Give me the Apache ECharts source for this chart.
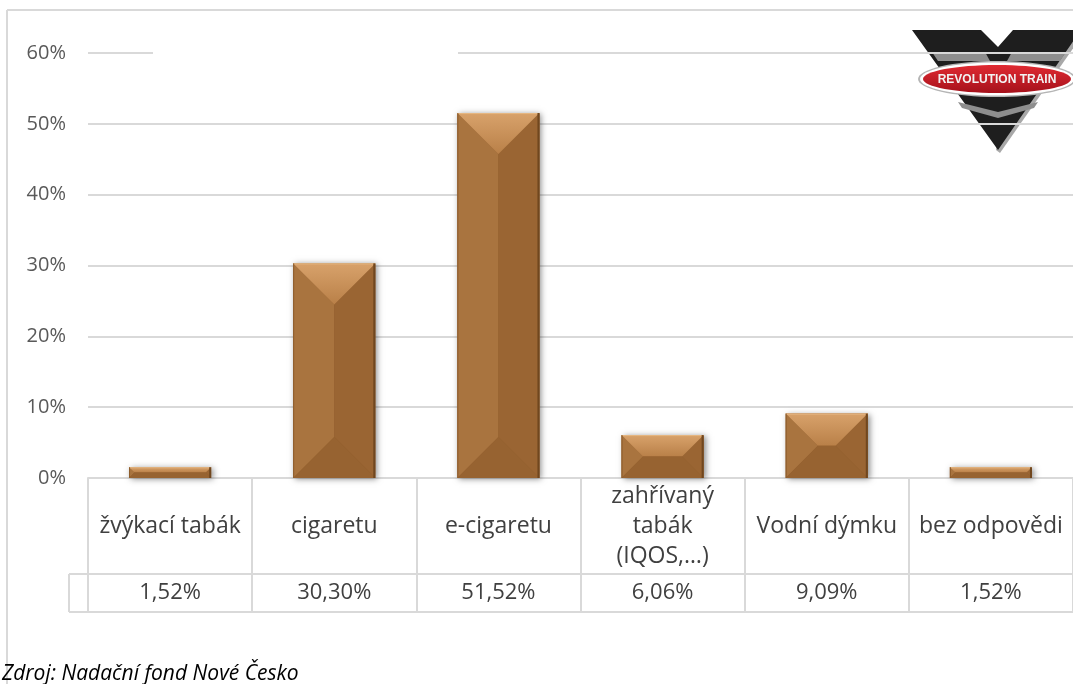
<!DOCTYPE html>
<html>
<head>
<meta charset="utf-8">
<script src="https://cdn.jsdelivr.net/npm/echarts@6/dist/echarts.min.js"></script>
<style>
html,body{margin:0;padding:0;background:#fff;}
#c{width:1073px;height:684px;}
</style>
</head>
<body>
<div id="c"></div>
<script>
const categories = ['žvýkací tabák', 'cigaretu', 'e-cigaretu', 'zahřívaný\ntabák\n(IQOS,…)', 'Vodní dýmku', 'bez odpovědi'];
const values = [1.52, 30.30, 51.52, 6.06, 9.09, 1.52];
const yMin = 0, yMax = 60, yStep = 10;
const sourceText = 'Zdroj: Nadační fond Nové Česko';
const logoText = 'REVOLUTION TRAIN';

const valueLabels = values.map(v => v.toFixed(2).replace('.', ',') + '%');
const barData = values.map((v, i) => [i, v]);

const FONT = "'Open Sans', 'DejaVu Sans', sans-serif";
const GRID_COL = '#d9d9d9';

function renderBar(params, api) {
  const idx = api.value(0), v = api.value(1);
  const base = api.coord([idx, 0]);
  const topP = api.coord([idx, v]);
  const bw = api.size([1, 0])[0] * 0.5;
  const x0 = base[0] - bw / 2, x1 = base[0] + bw / 2;
  const yT = topP[1], yB = base[1];
  const h = yB - yT;
  const d = Math.min(bw / 2, h / 2);
  return {
    type: 'group',
    children: [
      { type: 'rect', shape: { x: x0, y: yT, width: bw, height: h },
        style: { fill: '#8f5c2c', shadowBlur: 6, shadowColor: 'rgba(0,0,0,0.45)', shadowOffsetX: 2, shadowOffsetY: 1 } },
      { type: 'polygon', shape: { points: [[x0, yT], [x0 + d, yT + d], [x0 + d, yB - d], [x0, yB]] },
        style: { fill: '#a9743f' } },
      { type: 'polygon', shape: { points: [[x1, yT], [x1 - d, yT + d], [x1 - d, yB - d], [x1, yB]] },
        style: { fill: '#9a6533' } },
      { type: 'rect', shape: { x: x0 + d, y: yT + d, width: Math.max(0, bw - 2 * d), height: Math.max(0, h - 2 * d) },
        style: { fill: '#a06c38' } },
      { type: 'polygon', shape: { points: [[x0, yT], [x1, yT], [x1 - d, yT + d], [x0 + d, yT + d]] },
        style: { fill: { type: 'linear', x: 0, y: 0, x2: 0, y2: 1, colorStops: [
          { offset: 0, color: '#d8a26b' }, { offset: 1, color: '#b98048' }] } } },
      { type: 'polygon', shape: { points: [[x0, yB], [x1, yB], [x1 - d, yB - d], [x0 + d, yB - d]] },
        style: { fill: '#976331' } },
      { type: 'line', shape: { x1: x0, y1: yT + 0.5, x2: x1, y2: yT + 0.5 },
        style: { stroke: '#e6b883', lineWidth: 1 } },
      { type: 'line', shape: { x1: x1 - 1, y1: yT, x2: x1 - 1, y2: yB },
        style: { stroke: '#70471f', lineWidth: 2 } },
      { type: 'line', shape: { x1: x0 + 0.5, y1: yT, x2: x0 + 0.5, y2: yB },
        style: { stroke: '#8d5c2c', lineWidth: 1 } }
    ]
  };
}

const chart = echarts.init(document.getElementById('c'), null, { renderer: 'canvas' });

const logo = {
  type: 'group', z: 50,
  children: [
    { type: 'polygon', shape: { points: [[1013, 30], [1086, 30], [1000, 153], [996, 150]] },
      style: { fill: '#a8a8a8' } },
    { type: 'polygon', shape: { points: [[912, 30], [981, 30], [998, 47], [1013, 30], [1081, 30], [998, 150]] },
      style: { fill: '#1e1e1e' } },
    { type: 'polygon', shape: { points: [[932, 52], [985, 52], [990, 61], [938, 61]] }, style: { fill: '#8e8e8e' } },
    { type: 'polygon', shape: { points: [[1012, 52], [1066, 52], [1060, 61], [1007, 61]] }, style: { fill: '#8e8e8e' } },
    { type: 'polygon', shape: { points: [[958, 102], [998, 112], [1038, 102], [1034, 108], [998, 118], [962, 108]] },
      style: { fill: '#8e8e8e' } },
    { type: 'ellipse', shape: { cx: 997, cy: 79, rx: 79, ry: 18 }, style: { fill: '#b5b5b5' } },
    { type: 'ellipse', shape: { cx: 997, cy: 79, rx: 77, ry: 16.5 }, style: { fill: '#ffffff' } },
    { type: 'ellipse', shape: { cx: 997, cy: 79, rx: 74, ry: 14 },
      style: { fill: { type: 'linear', x: 0, y: 0, x2: 0, y2: 1, colorStops: [
        { offset: 0, color: '#e02a32' }, { offset: 1, color: '#a5111b' }] } } },
    { type: 'text', x: 997, y: 80, style: { text: logoText, fill: '#f2f2f2', font: "bold 12px 'Liberation Sans', sans-serif",
      align: 'center', verticalAlign: 'middle' } }
  ]
};

chart.setOption({
  animation: false,
  backgroundColor: '#ffffff',
  grid: { left: 88, right: -5, top: 53, bottom: 206, containLabel: false },
  xAxis: [
    {
      type: 'category', data: categories, position: 'bottom',
      axisLine: { show: true, lineStyle: { color: GRID_COL, width: 2 } },
      axisTick: { show: true, interval: 0, length: 134, lineStyle: { color: GRID_COL, width: 2 } },
      axisLabel: { interval: 0, margin: 48, verticalAlign: 'middle', lineHeight: 30,
        fontFamily: FONT, fontSize: 23, color: '#404040' }
    },
    {
      type: 'category', data: valueLabels, position: 'bottom', gridIndex: 0,
      axisLine: { show: false }, axisTick: { show: false }, splitLine: { show: false },
      axisLabel: { interval: 0, margin: 115, verticalAlign: 'middle',
        fontFamily: FONT, fontSize: 22, color: '#404040' }
    }
  ],
  yAxis: {
    type: 'value', min: yMin, max: yMax, interval: yStep,
    axisLine: { show: false }, axisTick: { show: false },
    axisLabel: { formatter: '{value}%', margin: 22, fontFamily: FONT, fontSize: 20, color: '#595959' },
    splitLine: { lineStyle: { color: GRID_COL, width: 2 } }
  },
  series: [{
    type: 'custom', xAxisIndex: 0, yAxisIndex: 0,
    renderItem: renderBar,
    encode: { x: 0, y: 1 },
    data: barData, z: 5
  }],
  graphic: [
    { type: 'line', z: 1, shape: { x1: 7, y1: 10, x2: 1073, y2: 10 }, style: { stroke: GRID_COL, lineWidth: 2 } },
    { type: 'line', z: 1, shape: { x1: 7, y1: 10, x2: 7, y2: 684 }, style: { stroke: GRID_COL, lineWidth: 2 } },
    { type: 'line', z: 1, shape: { x1: 69, y1: 574, x2: 1073, y2: 574 }, style: { stroke: GRID_COL, lineWidth: 2 } },
    { type: 'line', z: 1, shape: { x1: 69, y1: 612, x2: 1073, y2: 612 }, style: { stroke: GRID_COL, lineWidth: 2 } },
    { type: 'line', z: 1, shape: { x1: 69, y1: 574, x2: 69, y2: 612 }, style: { stroke: GRID_COL, lineWidth: 2 } },
    { type: 'rect', z: 10, shape: { x: 153, y: 48, width: 305, height: 10 }, style: { fill: '#ffffff' } },
    { type: 'text', z: 10, left: 2, top: 664,
      style: { text: sourceText, font: "italic 21px 'Open Sans', 'DejaVu Sans', sans-serif", fill: '#000000' } },
    logo
  ]
});
</script>
</body>
</html>
